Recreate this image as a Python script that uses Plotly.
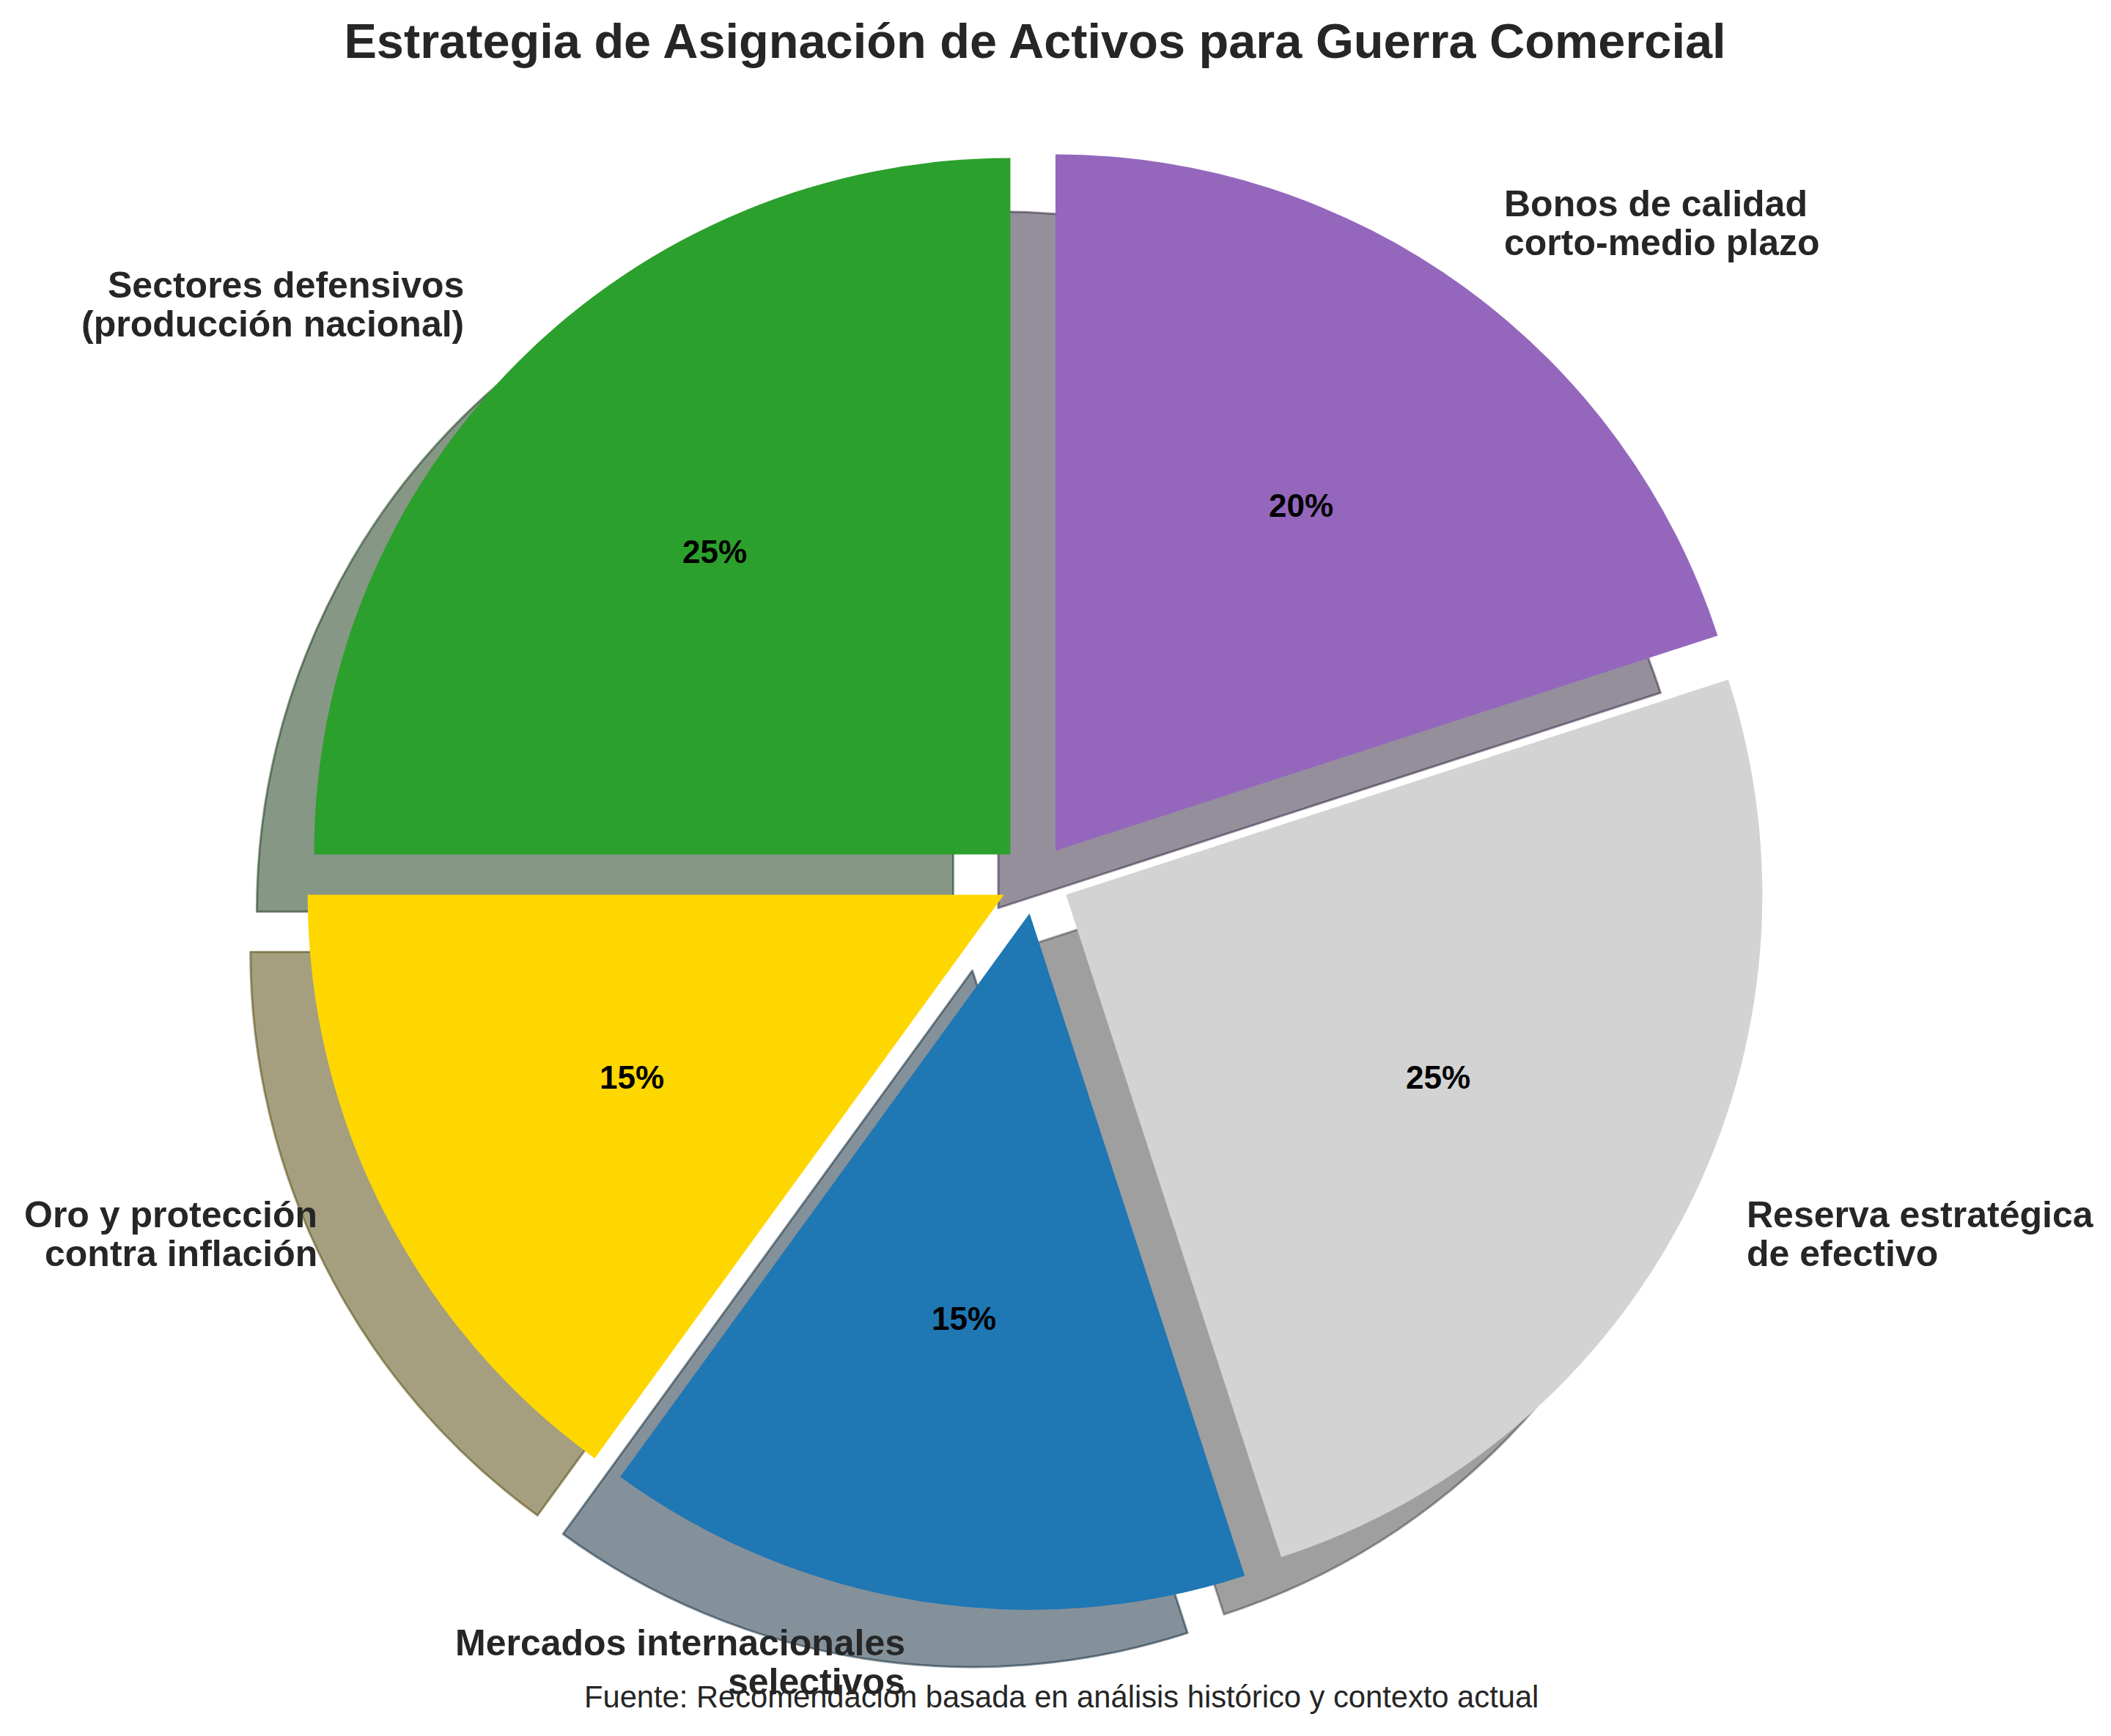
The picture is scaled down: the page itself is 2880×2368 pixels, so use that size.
import math
import plotly.graph_objects as go

# datos
categorias = [
    "Sectores defensivos\n(producción nacional)",
    "Oro y protección\ncontra inflación",
    "Mercados internacionales\nselectivos",
    "Reserva estratégica\nde efectivo",
    "Bonos de calidad\ncorto-medio plazo",
]
porcentajes = [25, 15, 15, 25, 20]
colores = ["#2ca02c", "#FFD700", "#1f77b4", "#D3D3D3", "#9467bd"]

titulo = "Estrategia de Asignación de Activos para Guerra Comercial"
fuente = "Fuente: Recomendación basada en análisis histórico y contexto actual"

# geometria (px)
W, H = 2880, 2368
cx, cy = 1404, 1191
R = 950
PULL = 0.05
SOMBRA = 78
FONT = "Liberation Sans"
TXT = "#262626"


def sombra(c):
    r, g, b = int(c[1:3], 16), int(c[3:5], 16), int(c[5:7], 16)
    return f"rgba({r * 0.3:.0f},{g * 0.3:.0f},{b * 0.3:.0f},0.5)"


def dominio(x0, y0):
    half = R * (1 + PULL)
    return dict(x=[(x0 - half) / W, (x0 + half) / W],
                y=[1 - (y0 + half) / H, 1 - (y0 - half) / H])


sombras = [sombra(c) for c in colores]
total = sum(porcentajes)
# plotly (ccw) coloca la 1a porcion a la derecha de las 12; se gira para que empiece en las 12
giro = -porcentajes[0] / total * 360

fig = go.Figure()
fig.add_trace(go.Pie(
    labels=categorias, values=porcentajes, sort=False,
    direction="counterclockwise", rotation=giro, pull=[PULL] * len(porcentajes),
    marker=dict(colors=sombras, line=dict(color=sombras, width=3)),
    textinfo="none", hoverinfo="skip", domain=dominio(cx - SOMBRA, cy + SOMBRA),
))
fig.add_trace(go.Pie(
    labels=categorias, values=porcentajes, sort=False,
    direction="counterclockwise", rotation=giro, pull=[PULL] * len(porcentajes),
    marker=dict(colors=colores, line=dict(width=0)),
    textinfo="none", domain=dominio(cx, cy),
))

# textos de porcentaje y etiquetas (como en matplotlib: 0.6r y 1.1r)
acum = 0
anots = []
for cat, v in zip(categorias, porcentajes):
    th = math.radians(90 + (acum + v / 2) / total * 360)
    acum += v
    d = 0.6 * R + PULL * R
    px_, py_ = cx + d * math.cos(th), cy - d * math.sin(th)
    anots.append(dict(x=px_ / W, y=1 - py_ / H, xref="paper", yref="paper",
                      text=f"{v / total * 100:.0f}%", showarrow=False,
                      xanchor="center", yanchor="middle", yshift=10,
                      font=dict(family=FONT, size=44, color="black", weight="bold")))
    d = 1.1 * R + PULL * R
    lx, ly = cx + d * math.cos(th), cy - d * math.sin(th)
    lineas = cat.split("\n")
    n = len(lineas)
    for i, linea in enumerate(lineas):
        anots.append(dict(x=lx / W, y=1 - ly / H, xref="paper", yref="paper",
                          text=linea, showarrow=False,
                          xanchor="left" if math.cos(th) > 0 else "right",
                          yanchor="middle",
                          yshift=-((i - (n - 1) / 2) * 53 - 3) + 8,
                          xshift=-4,
                          font=dict(family=FONT, size=50, color=TXT, weight="bold")))

anots.append(dict(x=0.5, y=1 - 2306 / H, xref="paper", yref="paper",
                  text=fuente, showarrow=False, xanchor="center", yanchor="middle",
                  font=dict(family=FONT, size=41.7, color=TXT)))

fig.update_layout(
    width=W, height=H,
    margin=dict(l=0, r=0, t=0, b=0),
    paper_bgcolor="white", plot_bgcolor="white",
    showlegend=False,
    title=dict(text=titulo, x=cx / W, xanchor="center", y=1 - 48 / H, yanchor="middle",
               font=dict(family=FONT, size=66.7, color=TXT, weight="bold")),
    annotations=anots,
)

fig.write_html("out.html")
